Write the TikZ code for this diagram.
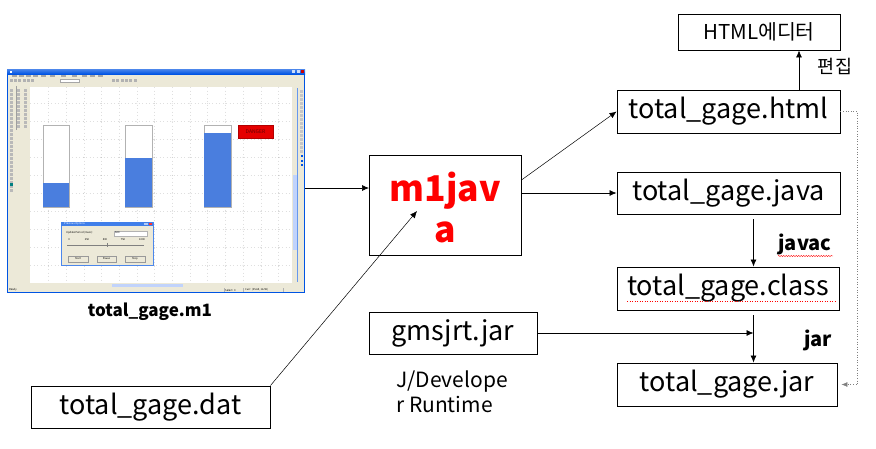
\documentclass[tikz,border=0pt]{standalone}
\usepackage{fontspec}
\setmainfont{Noto Sans CJK KR}
\usetikzlibrary{arrows.meta,decorations.pathmorphing,calc}
\definecolor{xpblue}{RGB}{0,84,227}
\definecolor{xpgray}{RGB}{236,233,216}
\definecolor{tankblue}{RGB}{74,126,222}
\definecolor{scrollb}{RGB}{193,211,251}
\begin{document}
\begin{tikzpicture}[x=1pt,y=-1pt,
  fbox/.style={draw, line width=0.9pt, inner sep=0pt, font=\fontsize{27}{32}\selectfont},
  arr/.style={-{Latex[length=7pt,width=6pt]}, line width=0.7pt},
  thinarr/.style={-{Latex[length=7pt,width=6pt]}, line width=0.5pt},
  lbl/.style={font=\fontsize{20}{24}\selectfont\bfseries, inner sep=0pt},
  tiny/.style={font=\fontsize{2.6}{3}\selectfont, inner sep=0pt},
  tank/.style={draw=gray!60, line width=0.4pt, fill=white},
]
\useasboundingbox (0,0) rectangle (876,448);

% ---------------- screenshot ----------------
\node[draw=none, minimum width=298pt, minimum height=224pt, inner sep=0pt] (win) at (156,181) {};
\fill[xpblue] (7,69) rectangle (305,293);
\fill[xpgray] (8,74) rectangle (304,292);
\shade[top color=xpblue!70!white, bottom color=xpblue] (7,69) rectangle (305,74);
\fill[white] (10,70.5) rectangle (12,72.5);
\fill[red!80!black] (301,70) rectangle (304,73);
\fill[white!80!xpblue] (292,70) rectangle (295,73);
\fill[white!80!xpblue] (296.5,70) rectangle (299.5,73);
% menu bar
\foreach \x in {12,19,26,33,41,50,61,72,82,90,98}
  \fill[gray!70] (\x,75.3) rectangle ++(4.5,1.2);
% toolbar
\foreach \x in {10,14,18,23,27,31}
  \fill[gray!60] (\x,79) rectangle ++(3,3);
\draw[gray!70,fill=white] (60,79) rectangle (79,82.5);
\foreach \x in {112,116,121,125,129,134}
  \fill[gray!60] (\x,79) rectangle ++(3,3);
% left tool palettes
\foreach \y in {89,93,...,189}
  \fill[gray!55] (9.5,\y) rectangle ++(3,2.6);
\foreach \y in {89,93,...,126}
  {\fill[gray!55] (17,\y) rectangle ++(3,2.6);
   \fill[gray!55] (23.5,\y) rectangle ++(3,2.6);}
\fill[teal] (9.5,183) rectangle ++(3,3);
\fill[gray!75] (16,86) rectangle (17,130);
% canvas
\fill[white] (30,87) rectangle (292,283);
\foreach \x in {48.3,66,...,290}
  \draw[gray!25, line width=0.3pt, dash pattern=on 0.3pt off 3.2pt] (\x,87) -- (\x,283);
\foreach \y in {103.3,121.3,...,283}
  \draw[gray!25, line width=0.3pt, dash pattern=on 0.3pt off 3.2pt] (30,\y) -- (292,\y);
\foreach \x in {48.3,66,...,290}
  \foreach \y in {103.3,121.3,...,283}
    \fill[gray!60] (\x,\y) circle (0.35pt);
% scrollbars
\fill[xpgray] (292,87) rectangle (298,283);
\fill[scrollb] (292.5,175) rectangle (297,250);
\fill[xpblue!60] (297,88) rectangle (298,282);
\fill[xpgray] (30,283) rectangle (292,287);
\fill[scrollb] (112,283.5) rectangle (183,286.5);
\foreach \y in {90,94,...,150}
  \fill[gray!45] (300,\y) rectangle ++(3,2.5);
\fill[xpblue] (300.5,155) rectangle ++(2,2);
\fill[xpblue] (300.5,160) rectangle ++(2,2);
\fill[xpblue] (300.5,164) rectangle ++(2,2);
% status bar
\draw[gray!60, line width=0.3pt] (224,288) -- (224,292) (243,288) -- (243,292) (283,288) -- (283,292);
\node[tiny, anchor=west] (st1) at (9,290) {Ready};
\node[tiny, anchor=west] (st2) at (225,290) {Select: 0};
\node[tiny, anchor=west] (st3) at (245,290) {Curr: (35.69, 16.59)};
% tanks
\node[tank, minimum width=26pt, minimum height=82pt, anchor=north west] (t1) at (43,125) {};
\fill[tankblue] (43.3,183) rectangle (68.7,206.7);
\node[tank, minimum width=27pt, minimum height=82pt, anchor=north west] (t2) at (125,125) {};
\fill[tankblue] (125.3,158) rectangle (151.7,206.7);
\node[tank, minimum width=27pt, minimum height=82pt, anchor=north west] (t3) at (204,125) {};
\fill[tankblue] (204.3,133) rectangle (230.7,206.7);
\node[fill=red!90!black, draw=red!70!black, minimum width=35pt, minimum height=13pt, inner sep=0pt,
      font=\fontsize{5}{6}\selectfont, text=red!40!black] (danger) at (255.5,131.5) {DANGER};
% dialog
\node[draw=xpblue!70, fill=xpgray, minimum width=92pt, minimum height=43pt, anchor=north west, inner sep=0pt] (dlg) at (61,222) {};
\fill[xpblue!75] (61,222) rectangle (153,226);
\fill[red!80] (148.5,222.6) rectangle (152,225.4);
\fill[white!70!xpblue] (144,222.6) rectangle (147.5,225.4);
\node[tiny, anchor=west, text=white] (dt) at (64,224) {Previous Options};
\node[tiny, anchor=west] (up) at (66,232.5) {Update Period (msec):};
\node[draw=gray!60, fill=white, minimum width=33pt, minimum height=5pt, inner sep=0pt, anchor=north west, tiny] (inp) at (114,230.5) {};
\node[tiny, anchor=west] (v500) at (115,233) {500};
\foreach \x/\t in {69/0,87/250,105/500,123/750,142/1000}
  \node[tiny] at (\x,240) {\t};
\draw[gray, line width=0.4pt] (67,245) -- (144,245);
\fill[gray] (106.5,243) rectangle (107.5,247);
\foreach \a/\b/\t in {68/88/Start,97/116/Pause,125/145/Stop}
  \node[draw=gray!80, line width=0.4pt, fill=xpgray, minimum width=\b pt-\a pt, minimum height=6pt, inner sep=0pt, tiny] at ({(\a+\b)/2},259) {\t};

\node[lbl, font=\fontsize{17}{20}\selectfont\bfseries] (m1lbl) at (150,312) {total\_gage.m1};

% ---------------- boxes ----------------
\node[fbox, minimum width=162pt, minimum height=36pt, font=\fontsize{20.5}{24}\selectfont] (editor) at (759,32) {HTML에디터};
\node[fbox, minimum width=223pt, minimum height=43pt] (html) at (728.5,111.5) {total\_gage.html};
\node[fbox, minimum width=223pt, minimum height=42pt] (java) at (728.5,193) {total\_gage.java};
\node[fbox, minimum width=222pt, minimum height=43pt] (class) at (728,288.5) {total\_gage.class};
\node[fbox, minimum width=220pt, minimum height=43pt] (jar) at (727,384.5) {total\_gage.jar};
\node[fbox, minimum width=168pt, minimum height=42pt] (gms) at (453,333) {gmsjrt.jar};
\node[fbox, minimum width=239pt, minimum height=42pt] (dat) at (150.5,407) {total\_gage.dat};
\node[draw, line width=0.9pt, minimum width=152pt, minimum height=100pt, inner sep=0pt] (m1) at (445,205) {};
\node[text=red, font=\fontsize{35.5}{41}\selectfont\bfseries, align=center, inner sep=0pt] (m1txt) at (445,207) {m1jav\\a};

% labels
\node[font=\fontsize{18.5}{22}\selectfont, inner sep=0pt] (edit) at (835,66) {편집};
\node[lbl] (javac) at (805,244) {javac};
\node[lbl] (jarl) at (818,340) {jar};
\node[font=\fontsize{21}{25}\selectfont, align=left, anchor=west, inner sep=0pt] (jdev) at (396,392) {J/Develope\\r Runtime};
\draw[red, line width=0.4pt, decorate, decoration={snake, amplitude=0.6pt, segment length=2.5pt}] (778,256) -- (833,256);
\draw[red, line width=0.5pt, dotted] (627,301) -- (836,301);

% ---------------- connectors ----------------
\coordinate (m1in) at (369,188);
\coordinate (m1tip) at (417,211);
\coordinate (ex) at (799,0);
\coordinate (cx) at (753.5,0);
\draw[arr] (win.east |- m1in) -- (m1in);
\draw[thinarr] (dat.north east) -- (m1tip);
\draw[thinarr] ([yshift=25pt]m1.east) -- (html.west);
\draw[arr] (m1.east |- java.west) -- (java.west);
\draw[arr] (html.north -| ex) -- (editor.south -| ex);
\draw[arr, shorten <=5pt] (java.south -| cx) -- (class.north -| cx);
\draw[arr, shorten <=5pt] (class.south -| cx) -- (jar.north -| cx);
\draw[arr] (gms.east) -- (gms.east -| cx);
\draw[gray, line width=0.6pt, dotted, -{Latex[length=6pt,width=5pt]}, shorten >=4pt]
  (html.east) -- ++(17,0) |- (jar.east);
\end{tikzpicture}
\end{document}
